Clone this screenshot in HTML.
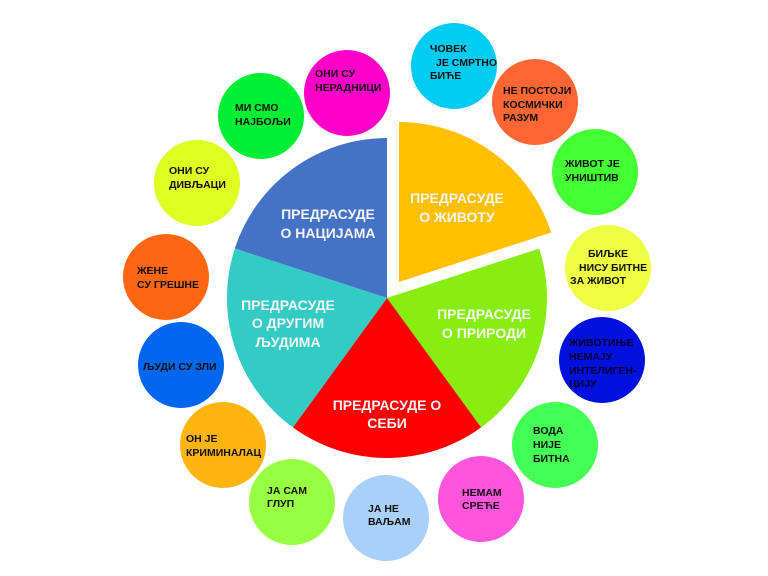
<!DOCTYPE html>
<html><head><meta charset="utf-8"><style>
html,body{margin:0;padding:0;background:#fff;width:768px;height:576px;overflow:hidden}
svg{display:block}
.p{font-family:"Liberation Sans",sans-serif;font-weight:bold;font-size:14px;fill:#f4f4f4;text-anchor:middle}
.c{font-family:"Liberation Sans",sans-serif;font-weight:bold;font-size:10.5px;fill:#111}
</style></head><body>
<svg width="768" height="576" viewBox="0 0 768 576" xmlns="http://www.w3.org/2000/svg">
<!-- pie -->
<path d="M387,298 L234.8,248.6 A160,160 0 0 1 387,138 Z" fill="#4472c4"/>
<path d="M399,282 L399,122 A160,160 0 0 1 551.2,232.6 Z" fill="#ffc000"/>
<path d="M387,298 L539.2,248.6 A160,160 0 0 1 481.1,427.4 Z" fill="#88ee11"/>
<path d="M387,298 L481.1,427.4 A160,160 0 0 1 292.9,427.4 Z" fill="#ff0000"/>
<path d="M387,298 L292.9,427.4 A160,160 0 0 1 234.8,248.6 Z" fill="#33ccc4"/>
<text class="p" x="328" y="219">ПРЕДРАСУДЕ</text><text class="p" x="328" y="238">О НАЦИЈАМА</text>
<text class="p" x="457" y="203">ПРЕДРАСУДЕ</text><text class="p" x="457" y="222">О ЖИВОТУ</text>
<text class="p" x="484" y="319">ПРЕДРАСУДЕ</text><text class="p" x="484" y="338">О ПРИРОДИ</text>
<text class="p" x="387" y="410">ПРЕДРАСУДЕ О</text><text class="p" x="387" y="428">СЕБИ</text>
<text class="p" x="288" y="310">ПРЕДРАСУДЕ</text><text class="p" x="288" y="328">О ДРУГИМ</text><text class="p" x="288" y="347">ЉУДИМА</text>
<!-- circles -->
<circle cx="454" cy="66" r="43" fill="#00ccf2"/>
<circle cx="535" cy="102" r="43" fill="#ff6633"/>
<circle cx="595" cy="172" r="43" fill="#44ff33"/>
<circle cx="608" cy="268" r="43" fill="#eeff44"/>
<circle cx="602" cy="360" r="43" fill="#0011dd"/>
<circle cx="555" cy="445" r="43" fill="#44ff55"/>
<circle cx="481" cy="499" r="43" fill="#ff55dd"/>
<circle cx="386" cy="518" r="43" fill="#a8d0f8"/>
<circle cx="292" cy="502" r="43" fill="#99ff44"/>
<circle cx="223" cy="445" r="43" fill="#ffb411"/>
<circle cx="181" cy="365" r="43" fill="#0066ee"/>
<circle cx="166" cy="277" r="43" fill="#ff6611"/>
<circle cx="197" cy="183" r="43" fill="#ddff22"/>
<circle cx="261" cy="116" r="43" fill="#00ee33"/>
<circle cx="347" cy="93" r="43" fill="#ff00c8"/>
<!-- labels -->
<text class="c" x="430" y="52">ЧОВЕК</text><text class="c" x="436" y="66">ЈЕ СМРТНО</text><text class="c" x="430" y="79">БИЋЕ</text>
<text class="c" x="503" y="94">НЕ ПОСТОЈИ</text><text class="c" x="503" y="108">КОСМИЧКИ</text><text class="c" x="503" y="121">РАЗУМ</text>
<text class="c" x="565" y="167">ЖИВОТ ЈЕ</text><text class="c" x="565" y="181">УНИШТИВ</text>
<text class="c" x="588" y="257">БИЉКЕ</text><text class="c" x="579" y="271">НИСУ БИТНЕ</text><text class="c" x="570" y="284">ЗА ЖИВОТ</text>
<text class="c" x="569" y="346" style="fill:#000033">ЖИВОТИЊЕ</text><text class="c" x="569" y="360" style="fill:#000033">НЕМАЈУ</text><text class="c" x="569" y="374" style="fill:#000033">ИНТЕЛИГЕН-</text><text class="c" x="569" y="387" style="fill:#000033">ЦИЈУ</text>
<text class="c" x="533" y="434">ВОДА</text><text class="c" x="533" y="448">НИЈЕ</text><text class="c" x="533" y="462">БИТНА</text>
<text class="c" x="462" y="496">НЕМАМ</text><text class="c" x="462" y="509">СРЕЋЕ</text>
<text class="c" x="368" y="512">ЈА НЕ</text><text class="c" x="368" y="525">ВАЉАМ</text>
<text class="c" x="267" y="494">ЈА САМ</text><text class="c" x="267" y="507">ГЛУП</text>
<text class="c" x="186" y="442">ОН ЈЕ</text><text class="c" x="186" y="456">КРИМИНАЛАЦ</text>
<text class="c" x="143" y="370">ЉУДИ СУ ЗЛИ</text>
<text class="c" x="137" y="274">ЖЕНЕ</text><text class="c" x="137" y="288">СУ ГРЕШНЕ</text>
<text class="c" x="169" y="174">ОНИ СУ</text><text class="c" x="169" y="188">ДИВЉАЦИ</text>
<text class="c" x="235" y="111">МИ СМО</text><text class="c" x="235" y="125">НАЈБОЉИ</text>
<text class="c" x="315" y="77">ОНИ СУ</text><text class="c" x="315" y="91">НЕРАДНИЦИ</text>
</svg>
</body></html>
